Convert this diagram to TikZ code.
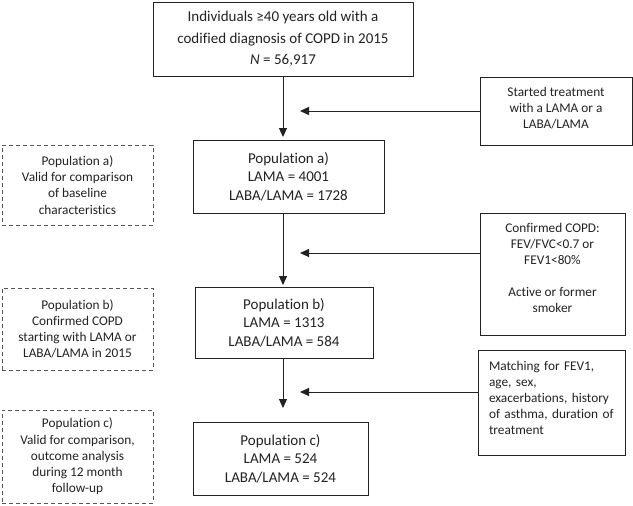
\documentclass[tikz,border=0pt]{standalone}
\usepackage{fontspec}
\setmainfont{Carlito}[Ligatures=NoCommon]
\usetikzlibrary{arrows.meta}
\definecolor{ink}{HTML}{222222}
\definecolor{dashc}{HTML}{555555}
\begin{document}
\begin{tikzpicture}[x=1pt,y=-1pt,
  mainbox/.style={draw=ink, line width=0.9pt, inner sep=0pt, align=center, text=ink,
    font=\fontsize{15}{18.5}\selectfont},
  sidebox/.style={draw=ink, line width=0.9pt, inner sep=0pt, align=center, text=ink,
    font=\fontsize{13.3}{16}\selectfont},
  notebox/.style={draw=dashc, line width=0.9pt, dash pattern=on 4pt off 3pt, inner sep=0pt,
    align=center, text=ink, font=\fontsize{13.3}{16.2}\selectfont},
  arr/.style={draw=ink, line width=1pt, -{Triangle[width=8pt,length=9pt]}}]
\useasboundingbox (0,0) rectangle (633,506);

% main column
\node[mainbox, minimum width=260, minimum height=74,
  font=\fontsize{15}{21.7}\selectfont] (top) at (283,39)
  {Individuals ≥40 years old with a\\codified diagnosis of COPD in 2015\\\textit{N} = 56,917};
\node[mainbox, minimum width=191, minimum height=73] (popa) at (288.5,176.5)
  {Population a)\\LAMA = 4001\\LABA/LAMA = 1728};
\node[mainbox, minimum width=178, minimum height=71] (popb) at (284,322.5)
  {Population b)\\LAMA = 1313\\LABA/LAMA = 584};
\node[mainbox, minimum width=175, minimum height=73] (popc) at (280.5,458.5)
  {Population c)\\LAMA = 524\\LABA/LAMA = 524};

% right column
\node[sidebox, minimum width=152, minimum height=68] (r1) at (556,111)
  {Started treatment\\with a LAMA or a\\LABA/LAMA\rule[-6pt]{0pt}{0pt}};
\node[sidebox, minimum width=145, minimum height=122] (r2) at (552.5,274)
  {Confirmed COPD:\\FEV/FVC<0.7 or\\FEV1<80\%\\[16pt]Active or former\\smoker\rule[-12pt]{0pt}{0pt}};
\node[sidebox, align=left, text width=137pt, inner xsep=5pt, minimum height=105] (r3) at (551.5,402.5)
  {\hspace*{6pt}Matching for FEV1,\\\hspace*{6pt}age, sex,\\\hspace*{6pt}exacerbations, history\\\hspace*{6pt}of asthma, duration of\\\hspace*{6pt}treatment\rule[-10pt]{0pt}{0pt}};

% left column
\node[notebox, minimum width=151, minimum height=80] (da) at (77.5,185)
  {Population a)\\Valid for comparison\\of baseline\\characteristics};
\node[notebox, minimum width=151, minimum height=82] (db) at (77.5,329)
  {Population b)\\Confirmed COPD\\starting with LAMA or\\LABA/LAMA in 2015};
\node[notebox, minimum width=151, minimum height=93] (dc) at (77.5,456.5)
  {Population c)\\Valid for comparison,\\outcome analysis\\during 12 month\\follow-up};

% arrow ends
\coordinate (v1) at (283,137);
\coordinate (v2) at (283,285);
\coordinate (v3) at (283,408);
\coordinate (h1) at (300,111);
\coordinate (h2) at (300,253);
\coordinate (h3) at (300,392);

\draw[arr] (top.south) -- (v1);
\draw[arr] (popa.south -| top.south) -- (v2);
\draw[arr] (popb.south -| top.south) -- (v3);
\draw[arr] (r1.west) -- (h1);
\draw[arr] ([yshift=21pt]r2.west) -- (h2);
\draw[arr] ([yshift=10.5pt]r3.west) -- (h3);
\end{tikzpicture}
\end{document}
